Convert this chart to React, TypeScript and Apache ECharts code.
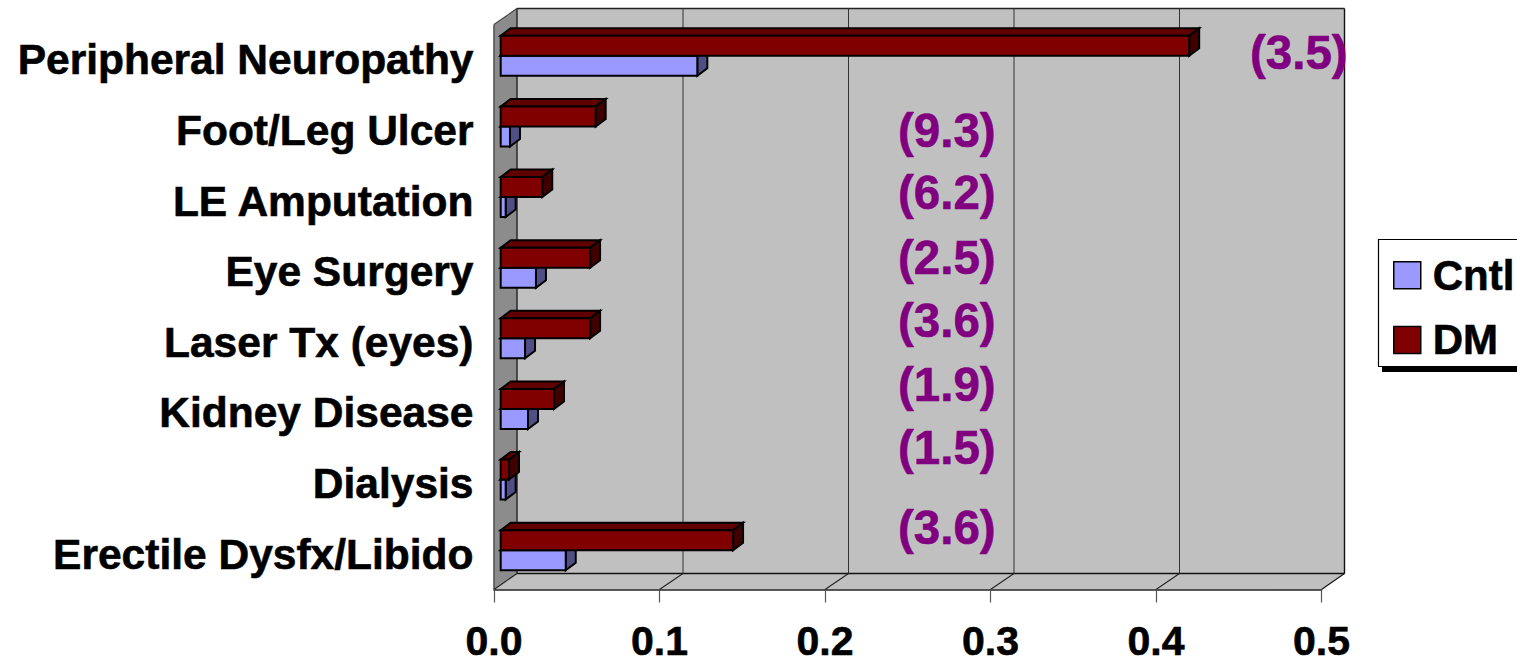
import React, { useEffect, useRef } from "react";
import * as echarts from "echarts";

const categories = [
  "Peripheral Neuropathy",
  "Foot/Leg Ulcer",
  "LE Amputation",
  "Eye Surgery",
  "Laser Tx (eyes)",
  "Kidney Disease",
  "Dialysis",
  "Erectile Dysfx/Libido",
];
const cntlValues = [0.1188, 0.0056, 0.003, 0.0213, 0.0147, 0.0165, 0.003, 0.0393];
const dmValues = [0.416, 0.0574, 0.0251, 0.054, 0.054, 0.0322, 0.005, 0.1404];
const ratioLabels = ["(3.5)", "(9.3)", "(6.2)", "(2.5)", "(3.6)", "(1.9)", "(1.5)", "(3.6)"];
const ratioX = [1250, 898, 898, 898, 898, 898, 898, 898];
const ratioY = [52, 130, 192, 257, 320, 384, 447, 527];

const FONT = '"Liberation Sans", Arial, sans-serif';
const G = { left: 494, top: 24.5, width: 827.5, height: 565 };
const DEPTH_X = 23;
const DEPTH_Y = 16;
const xTicks = [0.1, 0.2, 0.3, 0.4];
const right = G.left + G.width;
const bottom = G.top + G.height;
const heavy = { textBorderColor: "#000", textBorderWidth: 0.6 };

function makeBars(
  side: "upper" | "lower",
  front: string,
  topFace: string,
  sideFace: string
) {
  return (_params: any, api: any) => {
    const v = api.value(0);
    const cat = api.value(1);
    const base = api.coord([0, cat]);
    const end = api.coord([v, cat]);
    const x0 = base[0] + 6.7;
    const x1 = end[0] + 6.7;
    const mid = base[1] - 4;
    const h = 20;
    const y0 = side === "upper" ? mid - h : mid;
    const y1 = y0 + h;
    const dx = 10;
    const dy = 7.5;
    const style = (fill: string) => ({
      fill,
      stroke: "#000",
      lineWidth: 2,
      lineJoin: "miter",
    });
    return {
      type: "group",
      children: [
        {
          type: "polygon",
          shape: { points: [[x0, y0], [x0 + dx, y0 - dy], [x1 + dx, y0 - dy], [x1, y0]] },
          style: style(topFace),
        },
        {
          type: "polygon",
          shape: { points: [[x1, y0], [x1 + dx, y0 - dy], [x1 + dx, y1 - dy], [x1, y1]] },
          style: style(sideFace),
        },
        {
          type: "polygon",
          shape: { points: [[x0, y0], [x1, y0], [x1, y1], [x0, y1]] },
          style: style(front),
        },
      ],
    };
  };
}

export default function App() {
  const ref = useRef<HTMLDivElement>(null);
  useEffect(() => {
    const chart = echarts.init(ref.current!, undefined, { renderer: "svg" });
    const line = (x1: number, y1: number, x2: number, y2: number, stroke: string, lineWidth = 1.2) => ({
      type: "line",
      z: 1,
      shape: { x1, y1, x2, y2 },
      style: { stroke, lineWidth },
    });
    const tickX = (t: number) => G.left + (t / 0.5) * G.width;
    chart.setOption({
      animation: false,
      backgroundColor: "#fff",
      grid: { left: G.left, top: G.top, width: G.width, height: G.height, containLabel: false },
      xAxis: {
        type: "value",
        min: 0,
        max: 0.5,
        interval: 0.1,
        position: "bottom",
        splitLine: { show: false },
        axisLine: { show: true, lineStyle: { color: "#222", width: 1.6 } },
        axisTick: { show: true, length: 13, lineStyle: { color: "#555", width: 1.2 } },
        axisLabel: {
          margin: 33,
          lineHeight: 36,
          formatter: (v: number) => v.toFixed(1),
          color: "#000",
          fontFamily: FONT,
          fontWeight: "bold",
          fontSize: 41,
          ...heavy,
        },
      },
      yAxis: {
        type: "category",
        inverse: true,
        data: categories,
        axisLine: { show: false },
        axisTick: { show: false },
        axisLabel: {
          margin: 20.5,
          color: "#000",
          fontFamily: FONT,
          fontWeight: "bold",
          fontSize: 42.5,
          ...heavy,
        },
      },
      legend: {
        orient: "vertical",
        left: 1393,
        top: 254,
        padding: 0,
        itemWidth: 27,
        itemHeight: 27,
        itemGap: 22,
        selectedMode: false,
        z: 20,
        textStyle: {
          color: "#000",
          fontFamily: FONT,
          fontWeight: "bold",
          fontSize: 42,
          lineHeight: 27,
          padding: [0, 0, 0, 7],
          ...heavy,
        },
        data: [
          { name: "Cntl", icon: "rect", itemStyle: { color: "#9999ff", borderColor: "#000", borderWidth: 1.5 } },
          { name: "DM", icon: "rect", itemStyle: { color: "#800000", borderColor: "#000", borderWidth: 1.5 } },
        ],
      },
      series: [
        {
          type: "custom",
          name: "Cntl",
          z: 3,
          clip: false,
          itemStyle: { color: "#9999ff" },
          encode: { x: 0, y: 1 },
          data: cntlValues.map((v, i) => [v, i]),
          renderItem: makeBars("lower", "#9999ff", "#7a7acc", "#4f4f85"),
        },
        {
          type: "custom",
          name: "DM",
          z: 4,
          clip: false,
          itemStyle: { color: "#800000" },
          encode: { x: 0, y: 1 },
          data: dmValues.map((v, i) => [v, i]),
          renderItem: makeBars("upper", "#800000", "#600000", "#400000"),
        },
      ],
      graphic: {
        elements: [
          {
            type: "polygon",
            z: 0,
            shape: {
              points: [
                [G.left + DEPTH_X, G.top - DEPTH_Y],
                [right + DEPTH_X, G.top - DEPTH_Y],
                [right + DEPTH_X, bottom - DEPTH_Y],
                [right, bottom],
                [G.left, bottom],
                [G.left + DEPTH_X, bottom - DEPTH_Y],
              ],
            },
            style: { fill: "#c0c0c0", stroke: "none" },
          },
          {
            type: "polygon",
            z: 1,
            shape: {
              points: [
                [G.left, G.top],
                [G.left + DEPTH_X, G.top - DEPTH_Y],
                [G.left + DEPTH_X, bottom - DEPTH_Y],
                [G.left, bottom],
              ],
            },
            style: { fill: "#8c8c8c", stroke: "none" },
          },
          line(G.left + DEPTH_X, G.top - DEPTH_Y, right + DEPTH_X, G.top - DEPTH_Y, "#222", 1.4),
          line(right + DEPTH_X, G.top - DEPTH_Y, right + DEPTH_X, bottom - DEPTH_Y, "#111", 1.4),
          line(G.left + DEPTH_X, bottom - DEPTH_Y, right + DEPTH_X, bottom - DEPTH_Y, "#111", 1.4),
          line(G.left + DEPTH_X, G.top - DEPTH_Y, G.left + DEPTH_X, bottom - DEPTH_Y, "#222", 1.4),
          line(G.left, G.top, G.left, bottom, "#555", 1.6),
          line(G.left, G.top, G.left + DEPTH_X, G.top - DEPTH_Y, "#444", 1.2),
          line(G.left, bottom, G.left + DEPTH_X, bottom - DEPTH_Y, "#222", 1.2),
          line(right, bottom, right + DEPTH_X, bottom - DEPTH_Y, "#111", 1.2),
          ...xTicks.flatMap((t) => [
            line(tickX(t) + DEPTH_X + 0.5, G.top - DEPTH_Y, tickX(t) + DEPTH_X + 0.5, bottom - DEPTH_Y, "#333", 1),
            line(tickX(t), bottom, tickX(t) + DEPTH_X + 0.5, bottom - DEPTH_Y, "#222", 1.1),
          ]),
          {
            type: "rect",
            z: 8,
            shape: { x: 1382, y: 244, width: 150, height: 128 },
            style: { fill: "#000" },
          },
          {
            type: "rect",
            z: 9,
            shape: { x: 1378.5, y: 239.5, width: 150, height: 127 },
            style: { fill: "#fff", stroke: "#000", lineWidth: 1.2 },
          },
          ...ratioLabels.map((text, i) => ({
            type: "text",
            z: 15,
            x: ratioX[i],
            y: ratioY[i],
            style: {
              text,
              fill: "#800080",
              stroke: "#800080",
              lineWidth: 0.6,
              fontFamily: FONT,
              fontWeight: "bold",
              fontSize: 47.5,
              textAlign: "left",
              textVerticalAlign: "middle",
            },
          })),
        ],
      },
    });
    return () => chart.dispose();
  }, []);
  return (
    <div
      ref={ref}
      style={{ position: "fixed", left: 0, top: 0, width: 1517, height: 662 }}
    />
  );
}
